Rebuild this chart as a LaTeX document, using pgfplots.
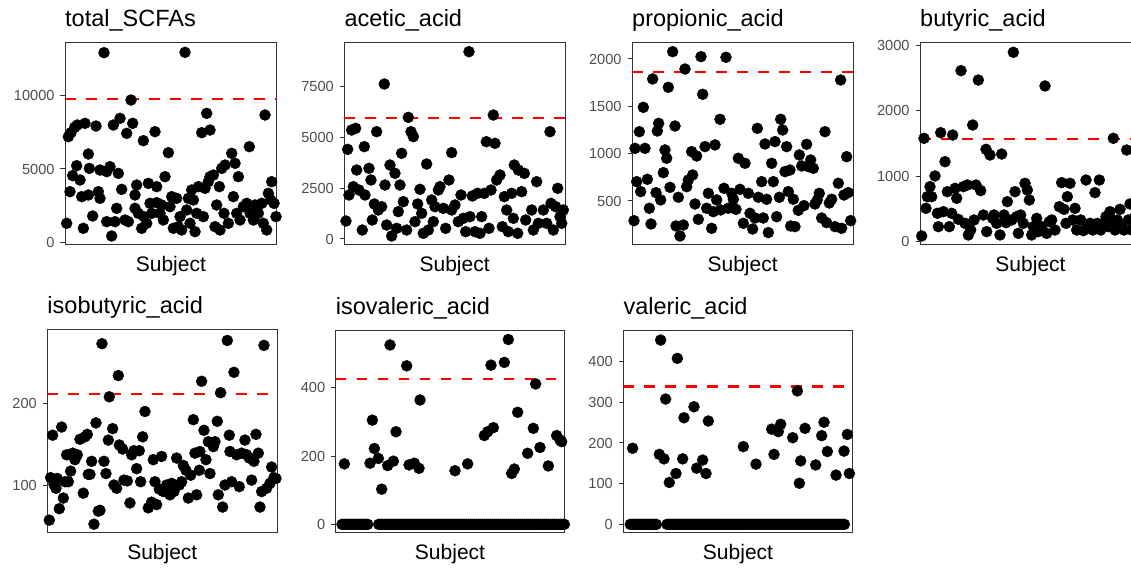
\documentclass[border=0pt]{standalone}
\usepackage{pgfplots}
\pgfplotsset{compat=1.18}
\usepackage{fontspec}
\setmainfont{Liberation Sans}

\definecolor{frame}{HTML}{333333}
\definecolor{ticktext}{HTML}{4D4D4D}

\pgfplotsset{
  every axis title shift=0pt,
  panel/.style={
    scale only axis,
    anchor=south west,
    axis line style={draw=frame, line width=1pt},
    xtick=\empty,
    ytick pos=left,
    tick align=outside,
    major tick length=4.5pt,
    tick style={draw=frame, line width=1pt},
    yticklabel style={font=\fontsize{14.6}{16}\selectfont, text=ticktext, inner sep=0pt, xshift=-5.8pt},
    scaled y ticks=false,
    /pgf/number format/fixed,
    /pgf/number format/1000 sep={},
    /pgf/number format/assume math mode=true,
    title style={at={(0,1)}, anchor=base west, yshift=16.3pt, inner sep=0pt,
                 font=\fontsize{23.5}{26}\selectfont},
    xlabel={Subject},
    xlabel style={at={(0.5,0)}, anchor=base, yshift=-26.5pt, inner sep=0pt,
                  font=\fontsize{21}{24}\selectfont},
    clip=true,
  },
  subj/.style={only marks, mark=*, mark size=5.5pt, mark options={draw=black, fill=black}},
  cut/.style={red, line width=2.3pt, dash pattern=on 10.5pt off 10.5pt},
}

\begin{document}
\begin{tikzpicture}[x=1pt, y=1pt]
\clip (0,0) rectangle (1131,567);

% ---------------- total_SCFAs ----------------
\begin{axis}[panel, at={(65pt,322pt)}, width=211.7pt, height=202.3pt,
  title={total\_SCFAs}, xmin=195, xmax=830, ymin=-158, ymax=13572,
  ytick={0,5000,10000}]
\addplot[cut] coordinates {(195,9750) (830,9750)};
\addplot[subj] coordinates {
(200,1312) (205,7193) (210,3461) (213,7464) (218,4547) (224,7827) (232,7985)
(230,5225) (240,4253) (245,3122) (250,973) (255,8098) (265,6017) (268,5044)
(265,3235) (278,1810) (288,7917) (295,3461) (300,4931) (300,3008) (312,12893)
(320,4818) (330,5157) (320,1425) (335,452) (340,7985) (345,1425) (350,2330)
(355,4705) (360,8437) (365,3619) (375,1538) (380,7419) (385,1425) (393,9682)
(398,8098) (405,3235) (405,2330) (410,3913) (415,1990) (425,973) (430,6922)
(432,1764) (440,1312) (445,4026) (450,2669) (455,1990) (465,7533) (470,3800)
(470,2714) (480,1990) (485,2556) (490,1538) (495,4479) (505,6107) (510,2443)
(515,3122) (520,973) (530,3008) (535,1086) (540,1764) (545,860) (555,12916)
(560,2217) (565,3008) (570,1312) (575,3574) (580,2895) (585,746) (590,1990)
(595,3800) (605,7465) (610,1764) (615,3687) (620,8777) (625,4139) (630,7645)
(630,4479) (640,4592) (645,1086) (650,2556) (658,3800) (660,860) (665,5044)
(672,1990) (675,5270) (685,1312) (695,6062) (700,3122) (705,5384) (710,1990)
(715,4479) (720,1538) (730,2443) (740,2669) (748,6515) (750,1990) (760,1538)
(765,2556) (775,1990) (785,2669) (790,1312) (795,8664) (800,860) (805,3348)
(812,2895) (815,4139) (822,2669) (828,1764)
};
\end{axis}

% ---------------- acetic_acid ----------------
\begin{axis}[panel, at={(344.3pt,322pt)}, width=220.7pt, height=202.3pt,
  title={acetic\_acid}, xmin=178, xmax=840, ymin=-294, ymax=9624,
  ytick={0,2500,5000,7500}]
\addplot[cut] coordinates {(178,5946) (840,5946)};
\addplot[subj] coordinates {
(183,882) (188,4395) (192,2157) (200,5343) (205,2565) (212,5425) (215,3382)
(222,2402) (232,441) (238,4526) (240,2157) (252,3464) (258,2892) (262,931)
(268,1716) (275,5261) (280,1422) (290,1585) (298,7598) (300,2647) (305,686)
(315,3627) (320,147) (330,3219) (335,523) (340,1340) (345,2647) (350,4199)
(355,1830) (365,441) (370,5964) (378,5261) (385,5016) (390,850) (398,1716)
(405,2435) (410,1258) (415,278) (425,3676) (430,441) (440,1912) (445,850)
(450,1585) (460,2402) (465,2565) (475,1503) (482,523) (492,2892) (500,4232)
(500,1422) (510,1667) (520,850) (528,2157) (535,1013) (542,359) (552,9183)
(555,1095) (562,2108) (570,359) (578,2239) (585,278) (590,1095) (598,2239)
(604,4771) (612,523) (618,2402) (625,6078) (630,4690) (635,2892) (645,3137)
(652,605) (658,2075) (665,1422) (670,359) (680,2239) (685,1013) (688,3627)
(698,278) (700,3382) (710,2320) (718,3219) (722,931) (740,1422) (745,441)
(755,2810) (760,768) (775,1422) (785,768) (795,5261) (798,1748) (805,441)
(812,1585) (818,2484) (825,1095) (830,768) (835,1422)
};
\end{axis}

% ---------------- propionic_acid ----------------
\begin{axis}[panel, at={(632pt,322pt)}, width=221.3pt, height=202.3pt,
  title={propionic\_acid}, xmin=186, xmax=850, ymin=35, ymax=2172,
  ytick={500,1000,1500,2000}]
\addplot[cut] coordinates {(186,1863) (850,1863)};
\addplot[subj] coordinates {
(192,292) (195,1056) (200,704) (208,1232) (212,599) (220,1489) (225,1056)
(232,729) (238,423) (243,257) (248,1789) (258,588) (262,1239) (266,1320)
(272,511) (280,799) (285,1039) (290,951) (295,1701) (300,644) (308,2077)
(315,1292) (318,236) (325,539) (330,130) (340,246) (345,1894) (350,651)
(355,722) (365,1021) (368,775) (375,468) (380,975) (385,306) (393,2025)
(398,1627) (405,1074) (410,423) (415,581) (425,211) (430,387) (435,1092)
(440,511) (450,1363) (452,405) (462,634) (468,2018) (475,423) (485,581)
(490,518) (498,412) (505,951) (510,623) (520,264) (525,898) (535,581)
(540,370) (548,204) (555,320) (562,1267) (565,539) (575,704) (580,320)
(585,1102) (590,518) (595,166) (605,898) (610,704) (615,1127) (620,334)
(628,539) (632,1363) (638,1250) (645,810) (650,1074) (655,599) (660,827)
(662,236) (670,518) (675,229) (685,401) (688,986) (695,870) (702,451)
(710,1099) (715,863) (722,933) (730,845) (735,468) (742,511) (748,581)
(755,320) (765,1232) (770,271) (778,479) (785,518) (795,229) (805,687)
(812,1778) (815,211) (822,563) (830,968) (835,588) (842,292)
};
\end{axis}

% ---------------- butyric_acid ----------------
\begin{axis}[panel, at={(920pt,322pt)}, width=221pt, height=202.3pt,
  title={butyric\_acid}, xmin=210, xmax=873, ymin=-51, ymax=3038,
  ytick={0,1000,2000,3000}]
\addplot[cut] coordinates {(210,1567) (873,1567)};
\addplot[subj] coordinates {
(215,87) (222,1578) (228,509) (232,687) (240,840) (245,687) (255,1003)
(262,433) (265,229) (272,1664) (280,458) (285,1221) (292,763) (298,229)
(305,433) (308,1628) (315,814) (320,662) (325,341) (333,2611) (340,840)
(345,280) (352,865) (355,102) (362,178) (368,1781) (372,331) (378,865)
(385,2468) (392,779) (400,407) (408,1410) (410,153) (420,1323) (428,356)
(432,407) (440,280) (450,102) (455,1338) (462,407) (468,290) (472,611)
(485,331) (490,2891) (495,763) (500,382) (505,127) (512,407) (520,280)
(525,891) (532,789) (538,636) (545,102) (550,229) (560,356) (565,153)
(575,229) (585,2377) (590,127) (598,305) (605,331) (615,178) (628,534)
(635,901) (642,494) (648,280) (652,687) (660,891) (668,331) (675,509)
(680,178) (692,331) (700,168) (708,941) (712,229) (720,280) (728,178)
(735,748) (742,280) (748,941) (752,178) (760,280) (768,382) (775,229)
(780,458) (785,331) (790,1578) (795,178) (802,331) (810,494) (815,229)
(822,178) (830,1399) (835,331) (840,575) (845,178) (855,382) (862,280)
};
\end{axis}

% ---------------- isobutyric_acid ----------------
\begin{axis}[panel, at={(47.3pt,34.3pt)}, width=230pt, height=202.7pt,
  title={isobutyric\_acid}, xmin=142, xmax=832, ymin=41.6, ymax=289.8,
  ytick={100,200}]
\addplot[cut] coordinates {(142,211.4) (832,211.4)};
\addplot[subj] coordinates {
(148,57) (152,109) (158,161) (162,101) (168,96) (172,108) (178,71) (185,171)
(190,84) (195,104) (200,137) (205,104) (212,117) (218,139) (225,131) (232,137)
(240,156) (250,90) (255,159) (262,162) (265,113) (270,113) (275,129) (282,52)
(288,176) (295,68) (300,69) (306,273) (312,129) (318,114) (325,155) (328,208)
(338,169) (342,100) (350,96) (355,234) (358,149) (368,144) (372,106) (382,105)
(390,78) (395,137) (402,142) (410,120) (418,142) (422,104) (428,159) (435,190)
(445,72) (455,79) (460,131) (465,104) (470,76) (478,95) (485,135) (490,92)
(500,100) (510,88) (515,102) (522,92) (530,133) (538,100) (545,104) (550,124)
(558,118) (565,84) (572,112) (580,180) (585,139) (590,88) (598,118) (600,141)
(605,227) (612,167) (618,131) (625,153) (630,114) (640,147) (645,153) (652,178)
(655,88) (662,213) (668,73) (675,100) (682,277) (688,161) (690,141) (695,104)
(702,238) (710,137) (718,98) (725,139) (735,155) (740,137) (748,133) (755,106)
(762,129) (768,162) (775,139) (780,73) (785,92) (792,271) (800,96) (810,102)
(815,122) (822,109) (828,108)
};
\end{axis}

% ---------------- isovaleric_acid ----------------
\begin{axis}[panel, at={(335.7pt,34.3pt)}, width=228.6pt, height=202pt,
  title={isovaleric\_acid}, xmin=152, xmax=838, ymin=-24.4, ymax=566.8,
  ytick={0,200,400}]
\addplot[cut] coordinates {(152,425.5) (838,425.5)};
% subjects below the detection limit
\addplot[subj] coordinates {
(171,0) (177,0) (183,0) (189,0) (195,0) (201,0) (207,0) (213,0) (219,0)
(225,0) (231,0) (237,0) (243,0) (248,0) (281,0) (287,0) (293,0) (299,0)
(305,0) (311,0) (317,0) (323,0) (329,0) (335,0) (341,0) (347,0) (353,0)
(359,0) (365,0) (371,0) (377,0) (383,0) (389,0) (395,0) (401,0) (407,0)
(413,0) (419,0) (425,0) (431,0) (437,0) (443,0) (449,0) (455,0) (461,0)
(467,0) (473,0) (479,0) (485,0) (491,0) (497,0) (503,0) (509,0) (515,0)
(521,0) (527,0) (533,0) (539,0) (545,0) (551,0) (557,0) (563,0) (569,0)
(575,0) (581,0) (587,0) (593,0) (599,0) (605,0) (611,0) (617,0) (623,0)
(629,0) (635,0) (641,0) (647,0) (653,0) (659,0) (665,0) (671,0) (677,0)
(683,0) (689,0) (695,0) (701,0) (707,0) (713,0) (719,0) (725,0) (731,0)
(737,0) (743,0) (749,0) (755,0) (761,0) (767,0) (773,0) (779,0) (785,0)
(791,0) (797,0) (803,0) (809,0) (815,0) (821,0) (827,0) (833,0) (838,0)
};
\addplot[subj] coordinates {
(178,177) (255,179) (262,305) (268,222) (280,193) (290,103) (308,172) (315,525)
(325,185) (333,271) (365,464) (372,174) (388,179) (402,164) (405,364) (510,157)
(548,177) (598,260) (608,271) (625,283) (618,466) (658,474) (670,541) (680,149)
(688,162) (698,328) (728,208) (745,281) (752,411) (765,225) (790,171) (815,260)
(825,247) (830,242)
};
\end{axis}

% ---------------- valeric_acid ----------------
\begin{axis}[panel, at={(623.3pt,34.3pt)}, width=229.4pt, height=202pt,
  title={valeric\_acid}, xmin=160, xmax=848, ymin=-20.5, ymax=476,
  ytick={0,100,200,300,400}]
\addplot[cut] coordinates {(160,339) (848,339)};
% subjects below the detection limit
\addplot[subj] coordinates {
(181,0) (187,0) (193,0) (199,0) (205,0) (211,0) (217,0) (223,0) (229,0)
(235,0) (241,0) (247,0) (253,0) (259,0) (291,0) (297,0) (303,0) (309,0)
(315,0) (321,0) (327,0) (333,0) (339,0) (345,0) (351,0) (357,0) (363,0)
(369,0) (375,0) (381,0) (387,0) (393,0) (399,0) (405,0) (411,0) (417,0)
(423,0) (429,0) (435,0) (441,0) (447,0) (453,0) (459,0) (465,0) (471,0)
(477,0) (483,0) (489,0) (495,0) (501,0) (507,0) (513,0) (519,0) (525,0)
(531,0) (537,0) (543,0) (549,0) (555,0) (561,0) (567,0) (573,0) (579,0)
(585,0) (591,0) (597,0) (603,0) (609,0) (615,0) (621,0) (627,0) (633,0)
(639,0) (645,0) (651,0) (657,0) (663,0) (669,0) (675,0) (681,0) (687,0)
(693,0) (699,0) (705,0) (711,0) (717,0) (723,0) (729,0) (735,0) (741,0)
(747,0) (753,0) (759,0) (765,0) (771,0) (777,0) (783,0) (789,0) (795,0)
(801,0) (807,0) (813,0) (819,0) (823,0)
};
\addplot[subj] coordinates {
(188,187) (272,453) (268,172) (282,161) (287,308) (298,103) (318,125) (322,408)
(338,161) (342,262) (372,289) (380,138) (398,158) (408,125) (415,254) (520,191)
(558,148) (605,234) (612,172) (625,228) (632,246) (668,213) (682,328) (688,101)
(692,156) (705,236) (737,146) (755,218) (762,251) (772,179) (798,121) (822,180)
(832,221) (838,125)
};
\end{axis}
\end{tikzpicture}
\end{document}
